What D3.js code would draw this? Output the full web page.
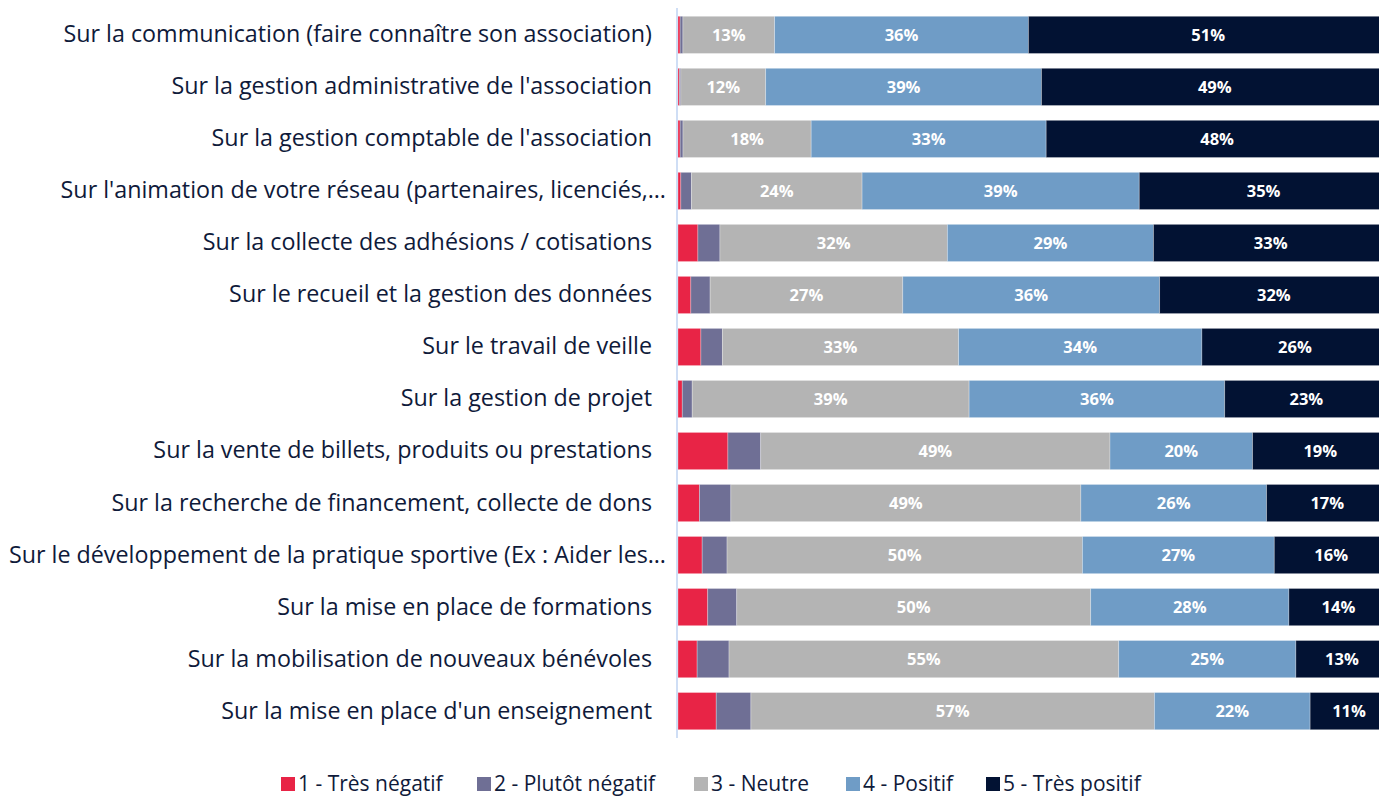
<!DOCTYPE html>
<html>
<head>
<meta charset="utf-8">
<script src="https://cdn.jsdelivr.net/npm/d3@7"></script>
<style>
  html, body { margin: 0; padding: 0; background: #fff; overflow: hidden; }
  svg { display: block; font-family: "Open Sans", Lato, sans-serif; }
</style>
</head>
<body>
<svg id="chart" width="1379" height="796"></svg>
<script>
// Categories, top to bottom
const categories = [
  "Sur la communication (faire connaître son association)",
  "Sur la gestion administrative de l'association",
  "Sur la gestion comptable de l'association",
  "Sur l'animation de votre réseau (partenaires, licenciés,…",
  "Sur la collecte des adhésions / cotisations",
  "Sur le recueil et la gestion des données",
  "Sur le travail de veille",
  "Sur la gestion de projet",
  "Sur la vente de billets, produits ou prestations",
  "Sur la recherche de financement, collecte de dons",
  "Sur le développement de la pratique sportive (Ex : Aider les…",
  "Sur la mise en place de formations",
  "Sur la mobilisation de nouveaux bénévoles",
  "Sur la mise en place d'un enseignement"
];

const seriesNames = ["1 - Très négatif", "2 - Plutôt négatif", "3 - Neutre", "4 - Positif", "5 - Très positif"];
const seriesColors = ["#e82446", "#6f6f95", "#b4b4b4", "#6f9cc6", "#021233"];

// Values in % (small ones)
const tresNegatif   = [0.3, 0.2, 0.3, 0.4, 2.8, 1.8, 3.2, 0.6, 7.0, 3.0, 3.4, 4.2, 2.7, 5.4];
const plutotNegatif = [0.4, 0.2, 0.4, 1.5, 3.1, 2.7, 3.0, 1.4, 4.6, 4.4, 3.5, 4.1, 4.5, 4.9];
const neutre        = [13, 12, 18, 24, 32, 27, 33, 39, 49, 49, 50, 50, 55, 57];
const positif       = [36, 39, 33, 39, 29, 36, 34, 36, 20, 26, 27, 28, 25, 22];
const tresPositif   = [51, 49, 48, 35, 33, 32, 26, 23, 19, 17, 16, 14, 13, 11];

const series = [tresNegatif, plutotNegatif, neutre, positif, tresPositif];

const textColor = "#0f1a3a";
const svg = d3.select("#chart");

const plotLeft = 678, plotRight = 1388, plotTop = 9, plotBottom = 737;

// 100% stacked rows
const rows = categories.map((c, i) => {
  const vals = series.map(s => s[i]);
  const total = d3.sum(vals);
  let acc = 0;
  return vals.map((v, k) => {
    const seg = { cat: c, k, value: v, x0: acc / total * 100, x1: (acc + v) / total * 100 };
    acc += v;
    return seg;
  });
});

const x = d3.scaleLinear().domain([0, 100]).range([plotLeft, plotRight]);
const y = d3.scaleBand().domain(categories).range([plotTop, plotBottom]).paddingInner(0.285).paddingOuter(0.14);

// Bars
const rowG = svg.append("g")
  .selectAll("g")
  .data(rows)
  .join("g");

rowG.selectAll("rect")
  .data(d => d)
  .join("rect")
  .attr("x", d => x(d.x0))
  .attr("y", d => y(d.cat))
  .attr("width", d => x(d.x1) - x(d.x0))
  .attr("height", y.bandwidth())
  .attr("fill", d => seriesColors[d.k])
  .attr("stroke", "#ffffff")
  .attr("stroke-opacity", 0.35)
  .attr("stroke-width", 0.8);

// Value labels (neutral, positive, very positive)
rowG.selectAll("text")
  .data(d => d.filter(s => s.k >= 2))
  .join("text")
  .attr("x", d => (x(d.x0) + x(d.x1)) / 2)
  .attr("y", d => y(d.cat) + y.bandwidth() / 2)
  .attr("dy", "0.36em")
  .attr("text-anchor", "middle")
  .attr("fill", "#ffffff")
  .attr("font-weight", "bold")
  .attr("font-size", 16.5)
  .text(d => d3.format(".0f")(d.value) + "%");

// Axis line
svg.append("line")
  .attr("x1", plotLeft - 1).attr("x2", plotLeft - 1)
  .attr("y1", plotTop - 1).attr("y2", plotBottom + 1)
  .attr("stroke", "#bfd3f2")
  .attr("stroke-width", 1.5);

// Category labels
const yAxis = d3.axisLeft(y).tickSize(0).tickPadding(26);
const ax = svg.append("g")
  .attr("transform", `translate(${plotLeft},0)`)
  .call(yAxis);
ax.select(".domain").remove();
ax.selectAll("text")
  .attr("font-family", "'Open Sans', Lato, sans-serif")
  .attr("font-size", 23.3)
  .attr("fill", textColor)
  // truncated labels sit closer to the axis, as in the original
  .attr("dx", d => d.endsWith("…") ? 14 : 0);

// Legend
const legendX = [281, 477, 694, 846, 986];
const legend = svg.append("g")
  .selectAll("g")
  .data(seriesNames)
  .join("g")
  .attr("transform", (d, i) => `translate(${legendX[i]},777)`);

legend.append("rect")
  .attr("width", 14).attr("height", 14)
  .attr("fill", (d, i) => seriesColors[i]);

legend.append("text")
  .attr("x", 17)
  .attr("y", 14)
  .attr("font-size", 21)
  .attr("fill", textColor)
  .text(d => d);
</script>
</body>
</html>
